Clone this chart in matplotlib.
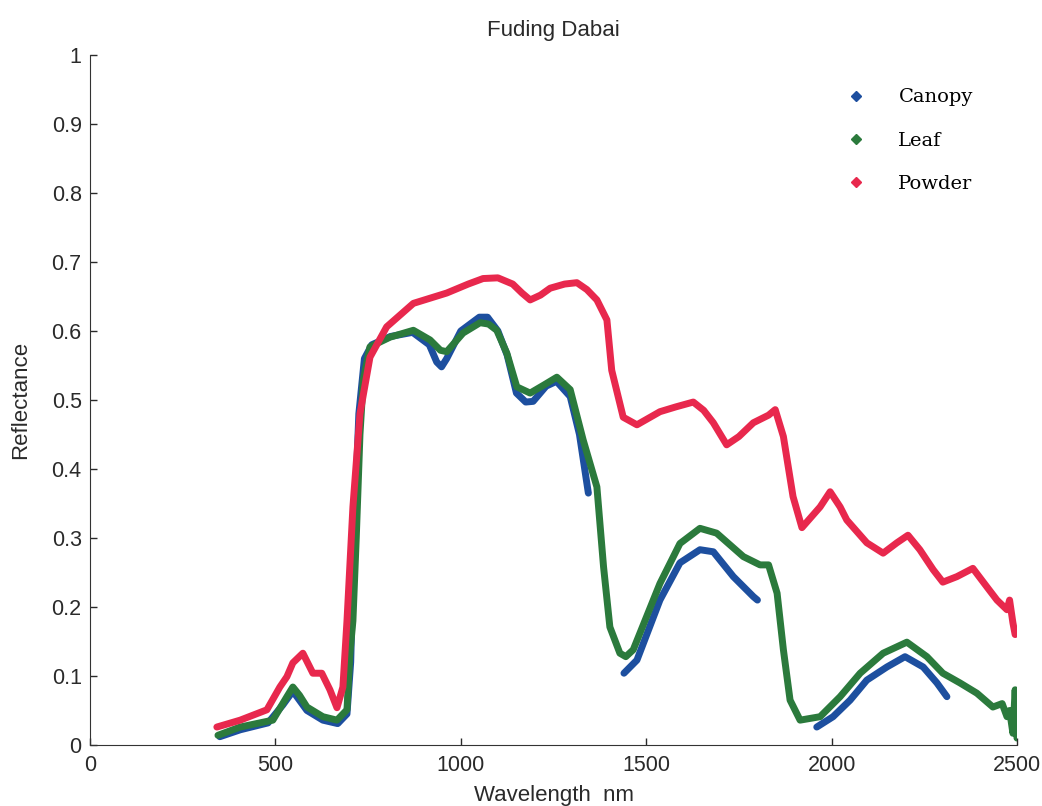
import numpy as np
import matplotlib
matplotlib.use("Agg")
import matplotlib.pyplot as plt
from matplotlib.lines import Line2D

nan = float("nan")

# Canopy (gaps at the water bands, ends ~2310 nm)
canopy_wl = [350, 405, 480, 520, 547, 585, 628, 668, 693, 703, 712, 725, 740, 760, 810,
             870, 915, 935, 948, 962, 1000, 1050, 1072, 1100, 1125, 1150, 1175, 1195,
             1230, 1258, 1295, 1320, 1344,
             1395,
             1440, 1475, 1537, 1591, 1645, 1681, 1735, 1789, 1800,
             1880,
             1960, 2004, 2050, 2095, 2149, 2198, 2247, 2284, 2311]
canopy_r = [0.012, 0.022, 0.032, 0.058, 0.078, 0.05, 0.036, 0.031, 0.045, 0.12, 0.3, 0.48,
            0.56, 0.58, 0.592, 0.598, 0.58, 0.555, 0.548, 0.56, 0.6, 0.62, 0.62, 0.6,
            0.565, 0.51, 0.497, 0.498, 0.52, 0.527, 0.505, 0.45, 0.365,
            nan,
            0.104, 0.123, 0.21, 0.264, 0.283, 0.28, 0.244, 0.215, 0.21,
            nan,
            0.026, 0.041, 0.065, 0.094, 0.113, 0.128, 0.113, 0.09, 0.07]

# Leaf
leaf_wl = [345, 405, 493, 531, 547, 565, 585, 628, 666, 693, 701, 709, 718, 728, 737,
           755, 809, 872, 917, 945, 962, 1006, 1052, 1075, 1097, 1124, 1151, 1187, 1225,
           1259, 1295, 1330, 1367, 1385, 1402, 1429, 1445, 1465, 1537, 1591, 1645, 1690,
           1762, 1807, 1830, 1853, 1870, 1888, 1915, 1969, 2023, 2077, 2139, 2203, 2257,
           2300, 2346, 2392, 2435, 2460, 2473, 2480, 2489, 2495, 2500]
leaf_r = [0.014, 0.026, 0.036, 0.07, 0.084, 0.072, 0.055, 0.041, 0.036, 0.051, 0.133,
          0.18, 0.3, 0.45, 0.529, 0.577, 0.591, 0.601, 0.587, 0.572, 0.57, 0.597, 0.612,
          0.61, 0.601, 0.568, 0.519, 0.51, 0.522, 0.533, 0.515, 0.442, 0.374, 0.258,
          0.171, 0.133, 0.128, 0.138, 0.234, 0.292, 0.314, 0.307, 0.273, 0.261, 0.261,
          0.22, 0.138, 0.065, 0.036, 0.041, 0.07, 0.104, 0.133, 0.149, 0.128, 0.104,
          0.09, 0.075, 0.055, 0.06, 0.041, 0.05, 0.017, 0.08, 0.01]

# Powder
powder_wl = [342, 405, 477, 512, 531, 547, 574, 601, 625, 647, 666, 682, 693, 709, 728,
             755, 800, 872, 962, 1020, 1060, 1100, 1140, 1165, 1187, 1215, 1241, 1280,
             1313, 1340, 1367, 1394, 1407, 1438, 1475, 1537, 1580, 1627, 1655, 1681, 1717,
             1750, 1789, 1830, 1848, 1870, 1896, 1920, 1969, 1996, 2023, 2041, 2095, 2139,
             2176, 2206, 2238, 2274, 2300, 2338, 2381, 2419, 2446, 2473, 2480, 2489, 2495]
powder_r = [0.026, 0.036, 0.051, 0.084, 0.099, 0.119, 0.133, 0.104, 0.104, 0.08, 0.054,
            0.084, 0.18, 0.345, 0.48, 0.562, 0.606, 0.64, 0.655, 0.668, 0.676, 0.677,
            0.668, 0.655, 0.645, 0.652, 0.662, 0.668, 0.67, 0.66, 0.645, 0.616, 0.543,
            0.475, 0.464, 0.483, 0.49, 0.497, 0.485, 0.467, 0.435, 0.447, 0.467, 0.478,
            0.486, 0.447, 0.36, 0.315, 0.345, 0.367, 0.345, 0.326, 0.293, 0.278, 0.293,
            0.304, 0.283, 0.254, 0.236, 0.244, 0.256, 0.229, 0.21, 0.196, 0.21, 0.177,
            0.16]

colors = {"Canopy": "#1d4f9f", "Leaf": "#2b7a3c", "Powder": "#e8284d"}

plt.rcParams["font.family"] = ["Liberation Sans", "DejaVu Sans"]

fig = plt.figure(figsize=(10.42, 8.06), dpi=100)
ax = fig.add_axes([0.0864, 0.0757, 0.8896, 0.8561])

for name, wl, r in [("Canopy", canopy_wl, canopy_r),
                    ("Leaf", leaf_wl, leaf_r),
                    ("Powder", powder_wl, powder_r)]:
    ax.plot(wl, r, "-", color=colors[name], lw=5,
            solid_joinstyle="round", solid_capstyle="round")

ax.set_xlim(0, 2500)
ax.set_ylim(0, 1)
ax.set_xticks(np.arange(0, 2501, 500))
ax.set_yticks(np.arange(0, 1.01, 0.1))
ax.set_yticklabels(["0", "0.1", "0.2", "0.3", "0.4", "0.5", "0.6", "0.7", "0.8", "0.9", "1"])
ax.tick_params(direction="in", length=5, width=1, labelsize=15.5, colors="#2a2a2a")
ax.tick_params(axis="y", pad=6)
ax.tick_params(axis="x", pad=7)
for s in ["top", "right"]:
    ax.spines[s].set_visible(False)
for s in ["left", "bottom"]:
    ax.spines[s].set_color("#333333")

ax.set_title("Fuding Dabai", fontsize=16, pad=14, color="#2a2a2a")
ax.set_xlabel("Wavelength  nm", fontsize=16, labelpad=7, color="#2a2a2a")
ax.set_ylabel("Reflectance", fontsize=16, labelpad=15, color="#2a2a2a")

handles = [Line2D([], [], marker="D", ls="none", color=colors[n], markersize=5)
           for n in ["Canopy", "Leaf", "Powder"]]
ax.legend(handles, ["Canopy", "Leaf", "Powder"], loc="upper left",
          bbox_to_anchor=(0.795, 0.912), bbox_transform=fig.transFigure,
          frameon=False, prop={"family": "DejaVu Serif", "size": 14},
          labelspacing=1.3, handletextpad=1.7, handlelength=1.0)

fig.savefig("out.png", dpi=100)
